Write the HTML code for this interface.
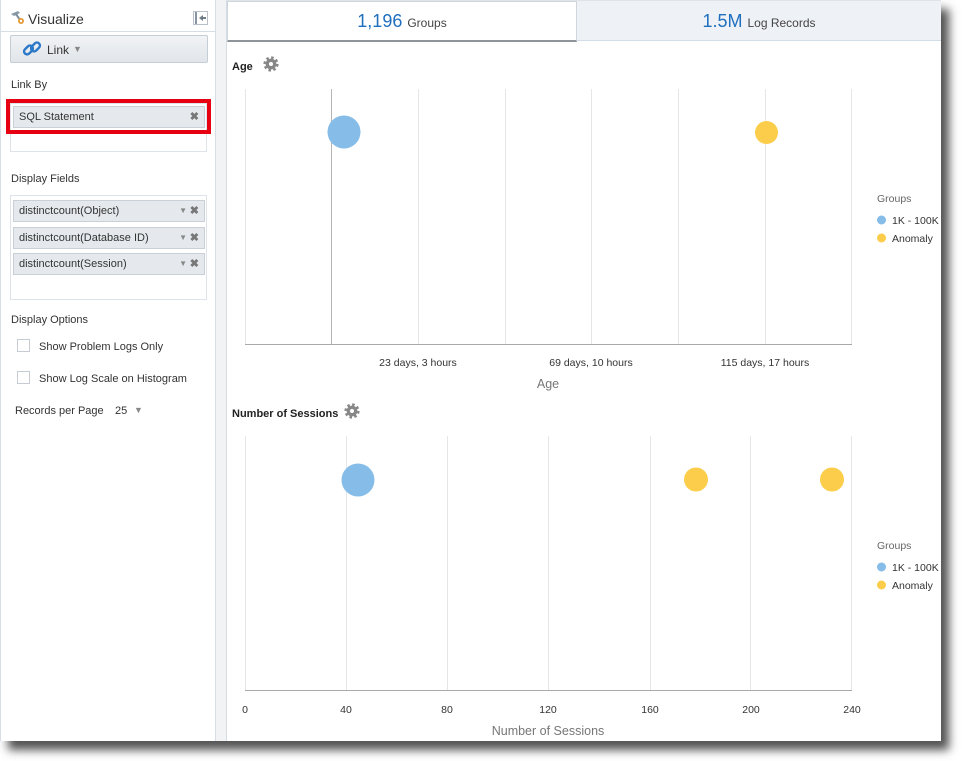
<!DOCTYPE html>
<html><head><meta charset="utf-8">
<style>
html,body{margin:0;padding:0;background:#fff;}
body{width:962px;height:761px;position:relative;overflow:hidden;font-family:"Liberation Sans",sans-serif;color:#333;}
#win{position:absolute;left:0;top:0;width:941px;height:741px;background:#fff;box-shadow:8px 9px 9px rgba(0,0,0,0.68);}
.abs{position:absolute;}
#left{position:absolute;left:0;top:0;width:216px;height:741px;background:#fff;border-left:1px solid #d6dde4;border-right:1px solid #d6dde4;box-sizing:border-box;}
#divider{position:absolute;left:216px;top:0;width:11px;height:741px;background:#f2f3f5;border-right:1px solid #d6dde4;box-sizing:border-box;}
.lbl{position:absolute;font-size:11px;color:#333;white-space:nowrap;}
.chip{position:absolute;left:12px;width:192px;height:22px;background:#e5e9ed;border:1px solid #c9d0d7;box-sizing:border-box;font-size:11px;line-height:20px;padding-left:5px;color:#333;white-space:nowrap;}
.chip .x{position:absolute;right:5px;top:0;font-size:11px;color:#777;font-weight:bold;}
.chip .dd{position:absolute;right:17px;top:0;font-size:8px;color:#888;}
.cb{position:absolute;left:16px;width:13px;height:13px;border:1px solid #c5ccd3;box-sizing:border-box;background:#fff;}
</style></head><body>
<div id="win">
  <div id="left">
    <svg class="abs" style="left:8px;top:9px" width="18" height="16" viewBox="0 0 18 16">
      <path d="M2 5 L9 2 L11 4 L5 7 Z" fill="#8a9aa8"/>
      <rect x="8" y="4" width="2" height="9" fill="#7d8c99" transform="rotate(-35 9 8)"/>
      <circle cx="12" cy="12" r="3" fill="#e39b3a"/>
      <circle cx="12" cy="12" r="1.2" fill="#fff"/>
    </svg>
    <div class="lbl" style="left:27px;top:11px;font-size:14px;color:#333;">Visualize</div>
    <svg class="abs" style="left:192px;top:11px" width="16" height="15" viewBox="0 0 16 15">
      <rect x="0.5" y="0.5" width="14" height="13" fill="#fff" stroke="#b9c0c7"/>
      <rect x="2" y="1" width="2" height="12" fill="#8795a2"/>
      <path d="M6 7 L10 4 L10 6 L13 6 L13 8 L10 8 L10 10 Z" fill="#6f7c88"/>
    </svg>
    <div class="abs" style="left:0;top:31px;width:215px;height:1px;background:#d6dde4"></div>
    <div class="abs" style="left:9px;top:35px;width:198px;height:28px;box-sizing:border-box;border:1px solid #c5cdd5;border-radius:2px;background:linear-gradient(#f1f3f5,#e1e5e9);"></div>
    <svg class="abs" style="left:20px;top:38px" width="22" height="22" viewBox="0 0 22 22">
      <g fill="none" stroke="#2b78c8" stroke-width="2.4">
        <rect x="2.5" y="9" width="10" height="6" rx="3" transform="rotate(-45 7.5 12)"/>
        <rect x="9.5" y="6" width="10" height="6" rx="3" transform="rotate(-45 14.5 9)"/>
      </g>
    </svg>
    <div class="lbl" style="left:46px;top:43px;font-size:12px;">Link</div>
    <div class="lbl" style="left:72px;top:44px;font-size:9px;color:#888;">&#9660;</div>
    <div class="lbl" style="left:10px;top:79px;">Link By</div>
    <div class="abs" style="left:9px;top:103px;width:197px;height:49px;border:1px solid #dde3e8;box-sizing:border-box;"></div>
    <div class="abs" style="left:5px;top:99px;width:205px;height:35px;border:4px solid #e60012;box-sizing:border-box;"></div>
    <div class="chip" style="top:106px;">SQL Statement<span class="x">&#10006;</span></div>
    <div class="lbl" style="left:10px;top:173px;">Display Fields</div>
    <div class="abs" style="left:9px;top:195px;width:197px;height:105px;border:1px solid #dde3e8;box-sizing:border-box;"></div>
    <div class="chip" style="top:200px;">distinctcount(Object)<span class="dd">&#9660;</span><span class="x">&#10006;</span></div>
    <div class="chip" style="top:227px;">distinctcount(Database ID)<span class="dd">&#9660;</span><span class="x">&#10006;</span></div>
    <div class="chip" style="top:253px;">distinctcount(Session)<span class="dd">&#9660;</span><span class="x">&#10006;</span></div>
    <div class="lbl" style="left:10px;top:314px;">Display Options</div>
    <div class="cb" style="top:339px;"></div>
    <div class="lbl" style="left:38px;top:341px;">Show Problem Logs Only</div>
    <div class="cb" style="top:371px;"></div>
    <div class="lbl" style="left:38px;top:373px;">Show Log Scale on Histogram</div>
    <div class="lbl" style="left:14px;top:405px;">Records per Page</div>
    <div class="lbl" style="left:114px;top:405px;">25</div>
    <div class="lbl" style="left:133px;top:405px;font-size:9px;color:#888;">&#9660;</div>
  </div>
  <div id="divider"></div>

  <div class="abs" style="left:577px;top:1px;width:364px;height:40px;background:#eef1f5;border-bottom:1px solid #d3dde7;box-sizing:border-box;"></div>
  <div class="abs" style="left:227px;top:1px;width:350px;height:41px;background:#fff;border:1px solid #cfd6dd;border-bottom:2px solid #8f9499;box-sizing:border-box;"></div>
  <div class="abs" style="left:227px;top:0;width:714px;height:1px;background:#dfe4e9"></div>
  <div class="lbl" style="left:227px;width:350px;top:11px;text-align:center;font-size:18px;color:#1f6fbf;">1,196 <span style="font-size:12px;color:#444;">Groups</span></div>
  <div class="lbl" style="left:577px;width:364px;top:11px;text-align:center;font-size:18px;color:#1f6fbf;">1.5M <span style="font-size:12px;color:#444;">Log Records</span></div>

  <svg class="abs" style="left:0;top:0" width="941" height="741" viewBox="0 0 941 741" font-family="Liberation Sans, sans-serif">
    <text x="232" y="70" font-size="11" font-weight="bold" fill="#222">Age</text>
    <g transform="translate(271,64)">
      <circle r="6" fill="none" stroke="#888" stroke-width="3.2" stroke-dasharray="2.4 2.3"/>
      <circle r="5.4" fill="#888"/>
      <circle r="2" fill="#fff"/>
    </g>
    <g stroke="#e6e6e6" stroke-width="1">
      <line x1="245.5" y1="89" x2="245.5" y2="344"/>
      <line x1="418.5" y1="89" x2="418.5" y2="344"/>
      <line x1="505.5" y1="89" x2="505.5" y2="344"/>
      <line x1="591.5" y1="89" x2="591.5" y2="344"/>
      <line x1="678.5" y1="89" x2="678.5" y2="344"/>
      <line x1="765.5" y1="89" x2="765.5" y2="344"/>
      <line x1="851.5" y1="89" x2="851.5" y2="344"/>
    </g>
    <line x1="331.5" y1="89" x2="331.5" y2="344" stroke="#b5b5b5"/>
    <line x1="245" y1="344.5" x2="852" y2="344.5" stroke="#a9a9a9"/>
    <circle cx="344" cy="132" r="16.5" fill="#85bce8"/>
    <circle cx="766.5" cy="132.5" r="11.5" fill="#fccd4a"/>
    <g font-size="10.5" fill="#333" text-anchor="middle">
      <text x="418" y="366">23 days, 3 hours</text>
      <text x="591" y="366">69 days, 10 hours</text>
      <text x="765" y="366">115 days, 17 hours</text>
    </g>
    <text x="548" y="388" font-size="12.5" fill="#777" text-anchor="middle">Age</text>
    <text x="877" y="202" font-size="10.5" fill="#666">Groups</text>
    <circle cx="881.5" cy="220" r="4.5" fill="#85bce8"/>
    <text x="892" y="224" font-size="10.5" fill="#333">1K - 100K</text>
    <circle cx="881.5" cy="238" r="4.5" fill="#fccd4a"/>
    <text x="892" y="242" font-size="10.5" fill="#333">Anomaly</text>

    <text x="232" y="417" font-size="11" font-weight="bold" fill="#222">Number of Sessions</text>
    <g transform="translate(352,411)">
      <circle r="6" fill="none" stroke="#888" stroke-width="3.2" stroke-dasharray="2.4 2.3"/>
      <circle r="5.4" fill="#888"/>
      <circle r="2" fill="#fff"/>
    </g>
    <g stroke="#e6e6e6" stroke-width="1">
      <line x1="245.5" y1="436" x2="245.5" y2="690"/>
      <line x1="346.5" y1="436" x2="346.5" y2="690"/>
      <line x1="447.5" y1="436" x2="447.5" y2="690"/>
      <line x1="548.5" y1="436" x2="548.5" y2="690"/>
      <line x1="650.5" y1="436" x2="650.5" y2="690"/>
      <line x1="750.5" y1="436" x2="750.5" y2="690"/>
      <line x1="851.5" y1="436" x2="851.5" y2="690"/>
    </g>
    <line x1="245" y1="690.5" x2="852" y2="690.5" stroke="#a9a9a9"/>
    <circle cx="358" cy="480" r="16.5" fill="#85bce8"/>
    <circle cx="696" cy="479.5" r="12" fill="#fccd4a"/>
    <circle cx="832" cy="479.5" r="12" fill="#fccd4a"/>
    <g font-size="10.5" fill="#333" text-anchor="middle">
      <text x="245" y="713">0</text>
      <text x="346" y="713">40</text>
      <text x="447" y="713">80</text>
      <text x="548" y="713">120</text>
      <text x="650" y="713">160</text>
      <text x="751" y="713">200</text>
      <text x="852" y="713">240</text>
    </g>
    <text x="548" y="735" font-size="12.5" fill="#777" text-anchor="middle">Number of Sessions</text>
    <text x="877" y="549" font-size="10.5" fill="#666">Groups</text>
    <circle cx="881.5" cy="567" r="4.5" fill="#85bce8"/>
    <text x="892" y="571" font-size="10.5" fill="#333">1K - 100K</text>
    <circle cx="881.5" cy="585" r="4.5" fill="#fccd4a"/>
    <text x="892" y="589" font-size="10.5" fill="#333">Anomaly</text>
  </svg>
</div>
</body></html>
